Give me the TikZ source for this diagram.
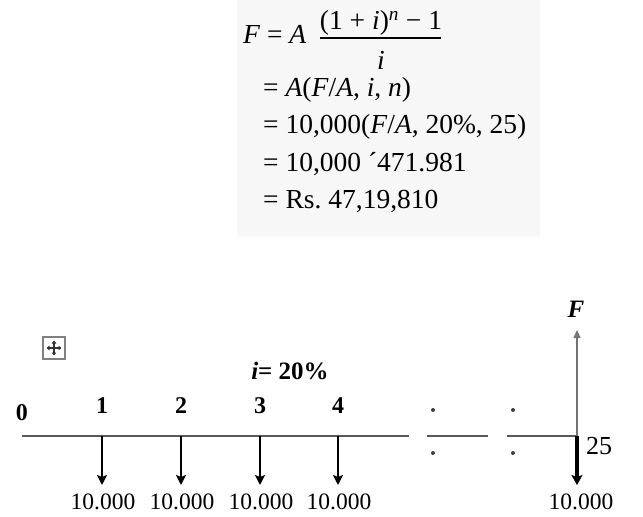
\documentclass[tikz,border=0pt]{standalone}
\usepackage{fontspec}
\setmainfont{Liberation Serif}
\usetikzlibrary{arrows.meta}
\tikzset{
  eqtext/.style={anchor=west, inner sep=0pt, font=\fontsize{27.5}{33}\selectfont},
  period/.style={font=\fontsize{24}{28}\selectfont\bfseries, inner sep=1pt},
  amount/.style={font=\fontsize{23.5}{27}\selectfont, inner sep=1pt},
  axisline/.style={draw=black!65, line width=1.6pt},
  payment/.style={black, line width=2.4pt, -{Stealth[length=10pt, width=10pt, inset=2pt]}},
  bigpayment/.style={black, line width=4.5pt, -{Stealth[length=10pt, width=11pt, inset=2pt]}},
  receipt/.style={black!55, line width=1.2pt, -{Triangle[length=8pt, width=7pt]}},
  dot/.style={circle, fill=black!75, inner sep=0pt, minimum size=4pt}
}

\begin{document}
\begin{tikzpicture}[x=1pt, y=-1pt]
    \useasboundingbox (0,0) rectangle (643,517);

    % 1. Bloque de la formula
    \fill[black!3] (237,0) rectangle (540,237);
    \node[eqtext] (lhs) at (243,34) {\textit{F} = \textit{A}};
    \node[eqtext, anchor=center] (num) at (381,23) {(1 + \textit{i})\textsuperscript{\textit{n}} − 1};
    \node[eqtext, anchor=center] (den) at (381,60) {\textit{i}};
    \coordinate (fracL) at (320,38);
    \coordinate (fracR) at (441,38);
    \draw[line width=1.2pt] (fracL) -- (fracR);
    \node[eqtext] (eq1) at (263,90) {= \textit{A}(\textit{F}/\textit{A}, \textit{i}, \textit{n})};
    \node[eqtext] (eq2) at (263,127) {= 10,000(\textit{F}/\textit{A}, 20\%, 25)};
    \node[eqtext] (eq3) at (263,164) {= 10,000 ´471.981};
    \node[eqtext] (eq4) at (263,201) {= Rs.\ 47,19,810};

    % 2. Eje de tiempo
    \coordinate (t0) at (22,436);
    \coordinate (axEnd) at (409,436);
    \draw[axisline] (t0) -- (axEnd);
    \coordinate (gapA) at (427,436);
    \coordinate (gapB) at (488,436);
    \draw[axisline] (gapA) -- (gapB);
    \coordinate (gapC) at (507,436);
    \coordinate (t25) at (577,436);
    \draw[axisline] (gapC) -- (t25);

    % Puntos suspensivos
    \foreach \x/\n in {433/a, 513/b} {
        \node[dot] (dotU\n) at (\x,410) {};
        \node[dot] (dotD\n) at (\x,453) {};
    }

    % 3. Pagos anuales
    \node[period] (p0) at (22,413) {0};
    \foreach \k/\x in {1/102, 2/181, 3/260, 4/338} {
        \coordinate (t\k) at (\x,436);
        \coordinate (d\k) at (\x,485);
        \draw[payment] (t\k) -- (d\k);
        \node[period] (p\k) at (\x,406) {\k};
        \node[amount] (a\k) at (\x+1,502) {10.000};
    }
    \node[period, font=\fontsize{25}{29}\selectfont\bfseries] (rate) at (290,371) {\textit{i}= 20\%};

    % 4. Periodo 25 y valor futuro
    \coordinate (d25) at (577,485);
    \draw[bigpayment] (t25) -- (d25);
    \node[amount] (a25) at (581,502) {10.000};
    \node[font=\fontsize{26}{30}\selectfont, inner sep=1pt] (n25) at (599,446) {25};
    \coordinate (up25) at (577,330);
    \draw[receipt] (t25) -- (up25);
    \node[font=\fontsize{25}{29}\selectfont\bfseries\itshape, inner sep=1pt] (fLbl) at (576,309) {F};

    % 5. Icono de mover
    \node[draw=black!50, fill=white, minimum size=22pt, inner sep=0pt, line width=1.5pt] (icon) at (54,348) {};
    \draw[black!80, line width=1.4pt, {Triangle[length=3pt,width=4.5pt]}-{Triangle[length=3pt,width=4.5pt]}]
        ([xshift=-7.5pt]icon.center) -- ([xshift=7.5pt]icon.center);
    \draw[black!80, line width=1.4pt, {Triangle[length=3pt,width=4.5pt]}-{Triangle[length=3pt,width=4.5pt]}]
        ([yshift=-7.5pt]icon.center) -- ([yshift=7.5pt]icon.center);
\end{tikzpicture}
\end{document}
